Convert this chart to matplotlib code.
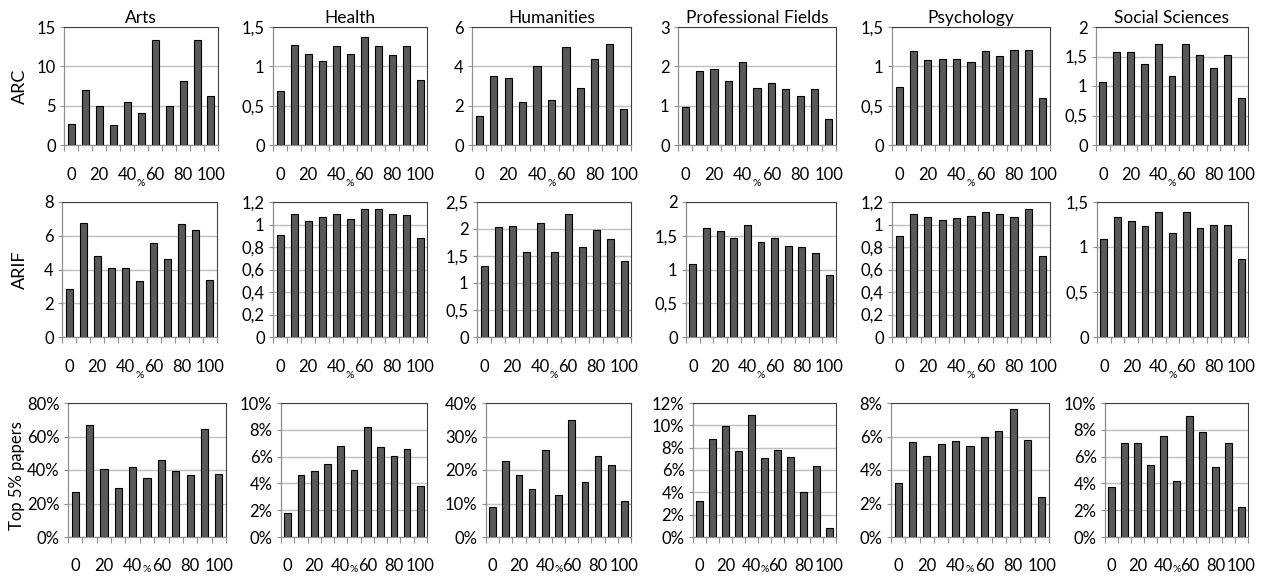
import numpy as np
import matplotlib.pyplot as plt
from matplotlib.ticker import FuncFormatter

plt.rcParams['font.family'] = ['Lato', 'DejaVu Sans']

fields = ['Arts', 'Health', 'Humanities', 'Professional Fields', 'Psychology', 'Social Sciences']
row_names = ['ARC', 'ARIF', 'Top 5% papers']
cats = [0, 10, 20, 30, 40, 50, 60, 70, 80, 90, 100]
tick_labels = ['0', '20', '40', '60', '80', '100']

# ARC
arc_arts = [2.63, 6.93, 4.97, 2.55, 5.44, 4.04, 13.39, 4.97, 8.16, 13.3, 6.25]
arc_health = [0.69, 1.275, 1.16, 1.07, 1.26, 1.16, 1.37, 1.26, 1.14, 1.26, 0.83]
arc_hum = [1.45, 3.49, 3.40, 2.18, 4.0, 2.30, 4.98, 2.89, 4.37, 5.14, 1.84]
arc_prof = [0.96, 1.89, 1.93, 1.63, 2.10, 1.44, 1.57, 1.42, 1.24, 1.42, 0.66]
arc_psych = [0.74, 1.19, 1.08, 1.09, 1.09, 1.06, 1.20, 1.13, 1.21, 1.21, 0.60]
arc_soc = [1.06, 1.57, 1.58, 1.38, 1.71, 1.17, 1.71, 1.53, 1.31, 1.52, 0.79]

# ARIF
arif_arts = [2.84, 6.75, 4.82, 4.11, 4.07, 3.29, 5.60, 4.60, 6.71, 6.35, 3.35]
arif_health = [0.91, 1.096, 1.033, 1.063, 1.09, 1.048, 1.138, 1.138, 1.096, 1.084, 0.88]
arif_hum = [1.31, 2.03, 2.05, 1.58, 2.12, 1.58, 2.28, 1.67, 1.98, 1.82, 1.41]
arif_prof = [1.08, 1.62, 1.57, 1.46, 1.66, 1.41, 1.46, 1.35, 1.34, 1.25, 0.92]
arif_psych = [0.895, 1.093, 1.069, 1.042, 1.057, 1.075, 1.108, 1.093, 1.069, 1.138, 0.719]
arif_soc = [1.085, 1.336, 1.294, 1.23, 1.388, 1.152, 1.388, 1.208, 1.242, 1.242, 0.864]

# share of top 5% papers (in %)
top_arts = [26.7, 67.1, 40.4, 29.1, 41.8, 35.5, 46.2, 39.2, 36.9, 64.6, 37.7]
top_health = [1.82, 4.6, 4.9, 5.47, 6.82, 5.02, 8.23, 6.74, 6.07, 6.6, 3.8]
top_hum = [8.86, 22.7, 18.6, 14.4, 26.1, 12.6, 35.0, 16.5, 24.3, 21.5, 10.7]
top_prof = [3.22, 8.81, 9.97, 7.7, 10.93, 7.07, 7.82, 7.13, 4.06, 6.36, 0.78]
top_psych = [3.23, 5.67, 4.81, 5.55, 5.73, 5.43, 5.97, 6.33, 7.64, 5.77, 2.36]
top_soc = [3.71, 7.04, 6.99, 5.35, 7.51, 4.15, 9.0, 7.81, 5.25, 7.04, 2.21]

data = [
    [arc_arts, arc_health, arc_hum, arc_prof, arc_psych, arc_soc],
    [arif_arts, arif_health, arif_hum, arif_prof, arif_psych, arif_soc],
    [top_arts, top_health, top_hum, top_prof, top_psych, top_soc],
]

# y axis max and step per panel
ylims = [
    [(15, 5), (1.5, 0.5), (6, 2), (3, 1), (1.5, 0.5), (2, 0.5)],
    [(8, 2), (1.2, 0.2), (2.5, 0.5), (2, 0.5), (1.2, 0.2), (1.5, 0.5)],
    [(80, 20), (10, 2), (40, 10), (12, 2), (8, 2), (10, 2)],
]

W, H = 1263, 577
row_y = [(27, 145), (202, 337), (403, 537)]
col_x = [
    [(64, 218), (273, 427), (472, 631), (678, 836), (892, 1050), (1096, 1248)],
    [(62, 217), (273, 427), (477, 631), (686, 836), (892, 1050), (1097, 1248)],
    [(68, 226), (281, 427), (486, 631), (693, 836), (891, 1049), (1105, 1248)],
]


def comma_fmt(v, pos):
    s = ('%.1f' % v).rstrip('0').rstrip('.')
    return s.replace('.', ',')


def pct_fmt(v, pos):
    return '%d%%' % round(v)


fig = plt.figure(figsize=(W / 100, H / 100), dpi=100)

for r in range(3):
    top, bot = row_y[r]
    for c in range(6):
        l, rr = col_x[r][c]
        ax = fig.add_axes([l / W, 1 - bot / H, (rr - l) / W, (bot - top) / H])
        x = np.arange(len(cats))
        ax.bar(x, data[r][c], width=0.5, color='#595959', edgecolor='black',
               linewidth=0.8, zorder=3)
        ymax, step = ylims[r][c]
        ax.set_ylim(0, ymax)
        ax.set_yticks(np.arange(0, ymax + step / 2, step))
        ax.yaxis.set_major_formatter(FuncFormatter(pct_fmt if r == 2 else comma_fmt))
        ax.set_xlim(-0.5, len(cats) - 0.5)
        ax.set_xticks(x[::2])
        ax.set_xticklabels(tick_labels)
        ax.set_xticks(np.arange(-0.5, len(cats), 1), minor=True)
        ax.tick_params(axis='x', which='major', length=0, pad=16 if r < 2 else 15, labelsize=12)
        ax.tick_params(axis='x', which='minor', length=4, color='#909090', width=0.8)
        ax.tick_params(axis='y', length=3, color='#909090', width=0.8, labelsize=12, pad=3)
        ax.yaxis.grid(True, color='#bfbfbf', linewidth=1, zorder=0)
        ax.set_axisbelow(True)
        for s in ['left', 'bottom']:
            ax.spines[s].set_color('#909090')
            ax.spines[s].set_linewidth(0.9)
        for s in ['top', 'right']:
            ax.spines[s].set_color('#404040')
            ax.spines[s].set_linewidth(0.8)
        ax.set_xlabel('%', fontsize=7.5, labelpad=-3 if r < 2 else -6.5)
        if r == 0:
            ax.set_title(fields[c], fontsize=12.5, pad=3)

fig.text(20 / W, 1 - 86 / H, row_names[0], rotation=90, ha='center', va='center', fontsize=13)
fig.text(20 / W, 1 - 270 / H, row_names[1], rotation=90, ha='center', va='center', fontsize=13)
fig.text(17 / W, 1 - 476 / H, row_names[2], rotation=90, ha='center', va='center', fontsize=12)

fig.savefig('out.png', dpi=100)
